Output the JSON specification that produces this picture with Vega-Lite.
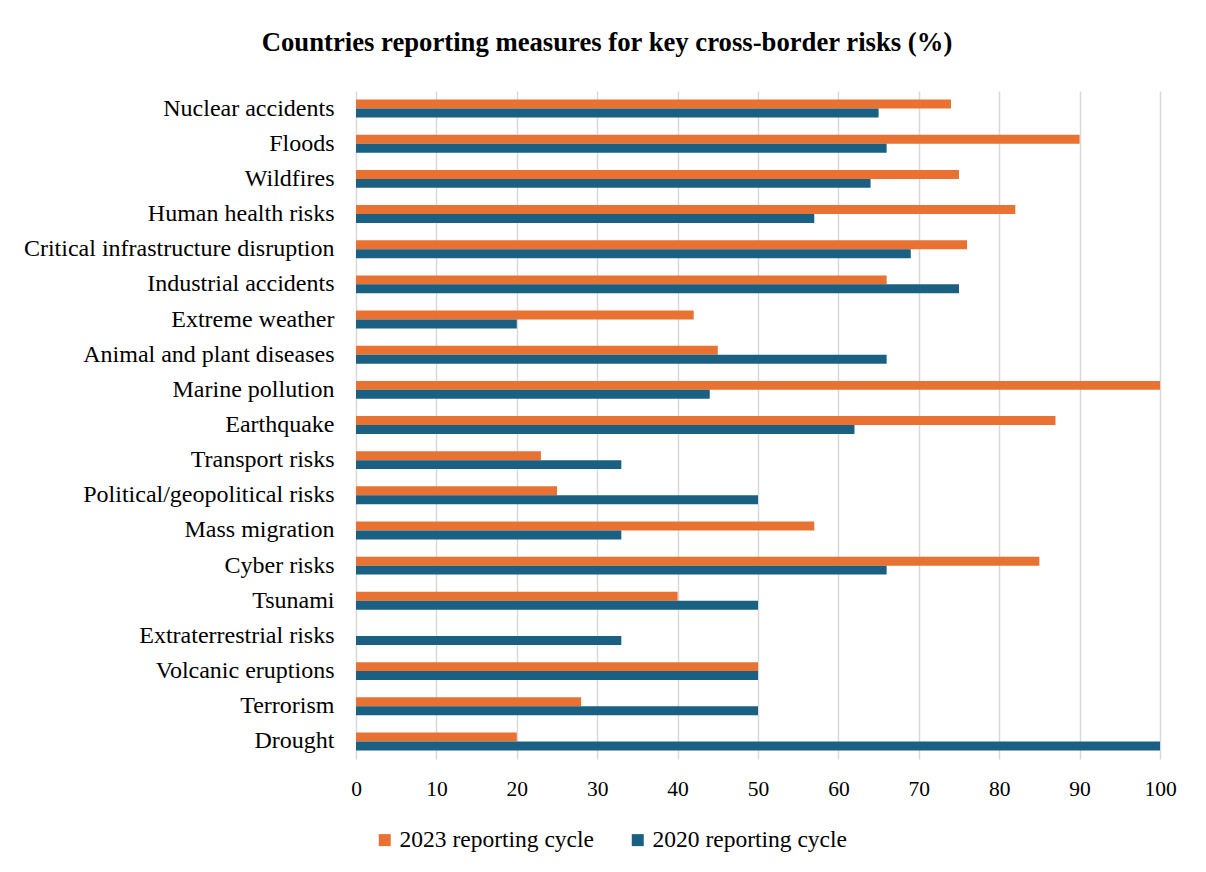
{
  "$schema": "https://vega.github.io/schema/vega-lite/v6.json",
  "width": 804,
  "height": 668,
  "autosize": {"type": "none"},
  "padding": {"left": 356, "top": 91, "right": 46, "bottom": 113},
  "background": "white",
  "title": {
    "text": "Countries reporting measures for key cross-border risks (%)",
    "font": "Liberation Serif",
    "fontSize": 26.7,
    "fontWeight": "bold",
    "color": "#000000",
    "anchor": "middle",
    "frame": "group",
    "dx": -151,
    "offset": 34
  },
  "data": {
    "values": [
      {"risk": "Nuclear accidents", "cycle": "2023 reporting cycle", "value": 74},
      {"risk": "Nuclear accidents", "cycle": "2020 reporting cycle", "value": 65},
      {"risk": "Floods", "cycle": "2023 reporting cycle", "value": 90},
      {"risk": "Floods", "cycle": "2020 reporting cycle", "value": 66},
      {"risk": "Wildfires", "cycle": "2023 reporting cycle", "value": 75},
      {"risk": "Wildfires", "cycle": "2020 reporting cycle", "value": 64},
      {"risk": "Human health risks", "cycle": "2023 reporting cycle", "value": 82},
      {"risk": "Human health risks", "cycle": "2020 reporting cycle", "value": 57},
      {"risk": "Critical infrastructure disruption", "cycle": "2023 reporting cycle", "value": 76},
      {"risk": "Critical infrastructure disruption", "cycle": "2020 reporting cycle", "value": 69},
      {"risk": "Industrial accidents", "cycle": "2023 reporting cycle", "value": 66},
      {"risk": "Industrial accidents", "cycle": "2020 reporting cycle", "value": 75},
      {"risk": "Extreme weather", "cycle": "2023 reporting cycle", "value": 42},
      {"risk": "Extreme weather", "cycle": "2020 reporting cycle", "value": 20},
      {"risk": "Animal and plant diseases", "cycle": "2023 reporting cycle", "value": 45},
      {"risk": "Animal and plant diseases", "cycle": "2020 reporting cycle", "value": 66},
      {"risk": "Marine pollution", "cycle": "2023 reporting cycle", "value": 100},
      {"risk": "Marine pollution", "cycle": "2020 reporting cycle", "value": 44},
      {"risk": "Earthquake", "cycle": "2023 reporting cycle", "value": 87},
      {"risk": "Earthquake", "cycle": "2020 reporting cycle", "value": 62},
      {"risk": "Transport risks", "cycle": "2023 reporting cycle", "value": 23},
      {"risk": "Transport risks", "cycle": "2020 reporting cycle", "value": 33},
      {"risk": "Political/geopolitical risks", "cycle": "2023 reporting cycle", "value": 25},
      {"risk": "Political/geopolitical risks", "cycle": "2020 reporting cycle", "value": 50},
      {"risk": "Mass migration", "cycle": "2023 reporting cycle", "value": 57},
      {"risk": "Mass migration", "cycle": "2020 reporting cycle", "value": 33},
      {"risk": "Cyber risks", "cycle": "2023 reporting cycle", "value": 85},
      {"risk": "Cyber risks", "cycle": "2020 reporting cycle", "value": 66},
      {"risk": "Tsunami", "cycle": "2023 reporting cycle", "value": 40},
      {"risk": "Tsunami", "cycle": "2020 reporting cycle", "value": 50},
      {"risk": "Extraterrestrial risks", "cycle": "2023 reporting cycle", "value": 0},
      {"risk": "Extraterrestrial risks", "cycle": "2020 reporting cycle", "value": 33},
      {"risk": "Volcanic eruptions", "cycle": "2023 reporting cycle", "value": 50},
      {"risk": "Volcanic eruptions", "cycle": "2020 reporting cycle", "value": 50},
      {"risk": "Terrorism", "cycle": "2023 reporting cycle", "value": 28},
      {"risk": "Terrorism", "cycle": "2020 reporting cycle", "value": 50},
      {"risk": "Drought", "cycle": "2023 reporting cycle", "value": 20},
      {"risk": "Drought", "cycle": "2020 reporting cycle", "value": 100}
    ]
  },
  "mark": {"type": "bar"},
  "encoding": {
    "y": {
      "field": "risk",
      "type": "nominal",
      "sort": null,
      "scale": {"paddingInner": 0.49, "paddingOuter": 0.245},
      "axis": {
        "title": null,
        "ticks": false,
        "domain": false,
        "labelFont": "Liberation Serif",
        "labelFontSize": 24,
        "labelColor": "#000000",
        "labelPadding": 22,
        "labelLimit": 400
      }
    },
    "yOffset": {
      "field": "cycle",
      "type": "nominal",
      "sort": ["2023 reporting cycle", "2020 reporting cycle"],
      "scale": {"paddingInner": 0, "paddingOuter": 0}
    },
    "x": {
      "field": "value",
      "type": "quantitative",
      "scale": {"domain": [0, 100], "nice": false},
      "axis": {
        "title": null,
        "values": [0, 10, 20, 30, 40, 50, 60, 70, 80, 90, 100],
        "ticks": false,
        "domain": false,
        "grid": true,
        "gridColor": "#D9D9D9",
        "gridWidth": 1.5,
        "labelFlush": false,
        "labelFont": "Liberation Serif",
        "labelFontSize": 21.5,
        "labelColor": "#000000",
        "labelPadding": 19
      }
    },
    "color": {
      "field": "cycle",
      "type": "nominal",
      "sort": ["2023 reporting cycle", "2020 reporting cycle"],
      "scale": {
        "domain": ["2023 reporting cycle", "2020 reporting cycle"],
        "range": ["#E97132", "#1A6082"]
      },
      "legend": {
        "title": null,
        "orient": "none",
        "direction": "horizontal",
        "legendX": 17,
        "legendY": 737,
        "symbolType": "square",
        "symbolSize": 144,
        "symbolStrokeWidth": 0,
        "labelFont": "Liberation Serif",
        "labelFontSize": 23.5,
        "labelColor": "#000000",
        "labelLimit": 400,
        "columnPadding": 32,
        "labelOffset": 3
      }
    }
  },
  "config": {
    "view": {"stroke": null}
  }
}
